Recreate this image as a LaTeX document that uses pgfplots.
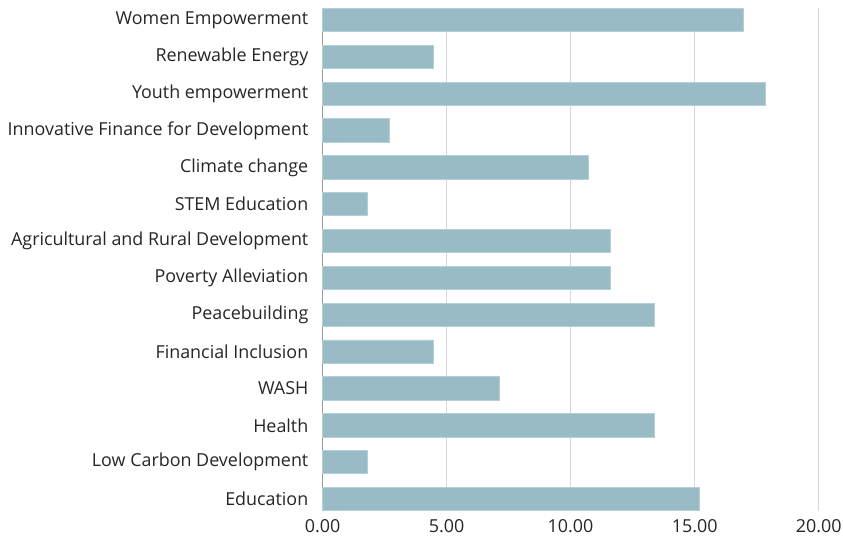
\documentclass[border=0pt]{standalone}
\usepackage{pgfplots}
\pgfplotsset{compat=1.18}
\usepackage{fontspec}
\setmainfont{Open Sans}
\definecolor{barc}{HTML}{98BBC6}
\definecolor{barb}{HTML}{B3CFD8}
\definecolor{gridc}{HTML}{D6D6D6}
\definecolor{txt}{HTML}{262626}
\begin{document}
\begin{tikzpicture}
\begin{axis}[
  scale only axis, width=496.2pt, height=502.4pt,
  xbar, bar width=23.3pt,
  xmin=0, xmax=20, ymin=-0.318, ymax=13.318,
  xtick={0,5,10,15,20},
  ytick={0,...,13},
  yticklabels={Education, Low Carbon Development, Health, WASH, Financial Inclusion, Peacebuilding, Poverty Alleviation, Agricultural and Rural Development, STEM Education, Climate change, Innovative Finance for Development, Youth empowerment, Renewable Energy, Women Empowerment},
  /pgf/number format/assume math mode=true,
  xticklabel style={/pgf/number format/.cd, fixed, fixed zerofill, precision=2, /tikz/.cd, anchor=north, inner sep=0pt, yshift=-8.5pt},
  yticklabel style={anchor=east, inner sep=0pt, xshift=-14pt},
  ticklabel style={font=\fontsize{17.9}{20}\selectfont, text=txt},
  major tick length=0pt,
  axis lines*=left,
  x axis line style={draw=none},
  y axis line style={draw=gray!80, line width=1pt, -},
  xmajorgrids, grid style={gridc, line width=1.5pt},
  clip=false,
]
\addplot[draw=barb, fill=barc, line width=0.8pt] coordinates {
(15.18,0) (1.79,1) (13.39,2) (7.14,3) (4.46,4) (13.39,5) (11.61,6) (11.61,7) (1.79,8) (10.71,9) (2.68,10) (17.86,11) (4.46,12) (16.96,13)
};
\end{axis}
\pgfresetboundingbox
\path[use as bounding box] ([xshift=-322.5pt,yshift=-26.3pt]current axis.south west) rectangle ([xshift=24.3pt,yshift=8.3pt]current axis.north east);
\end{tikzpicture}
\end{document}
